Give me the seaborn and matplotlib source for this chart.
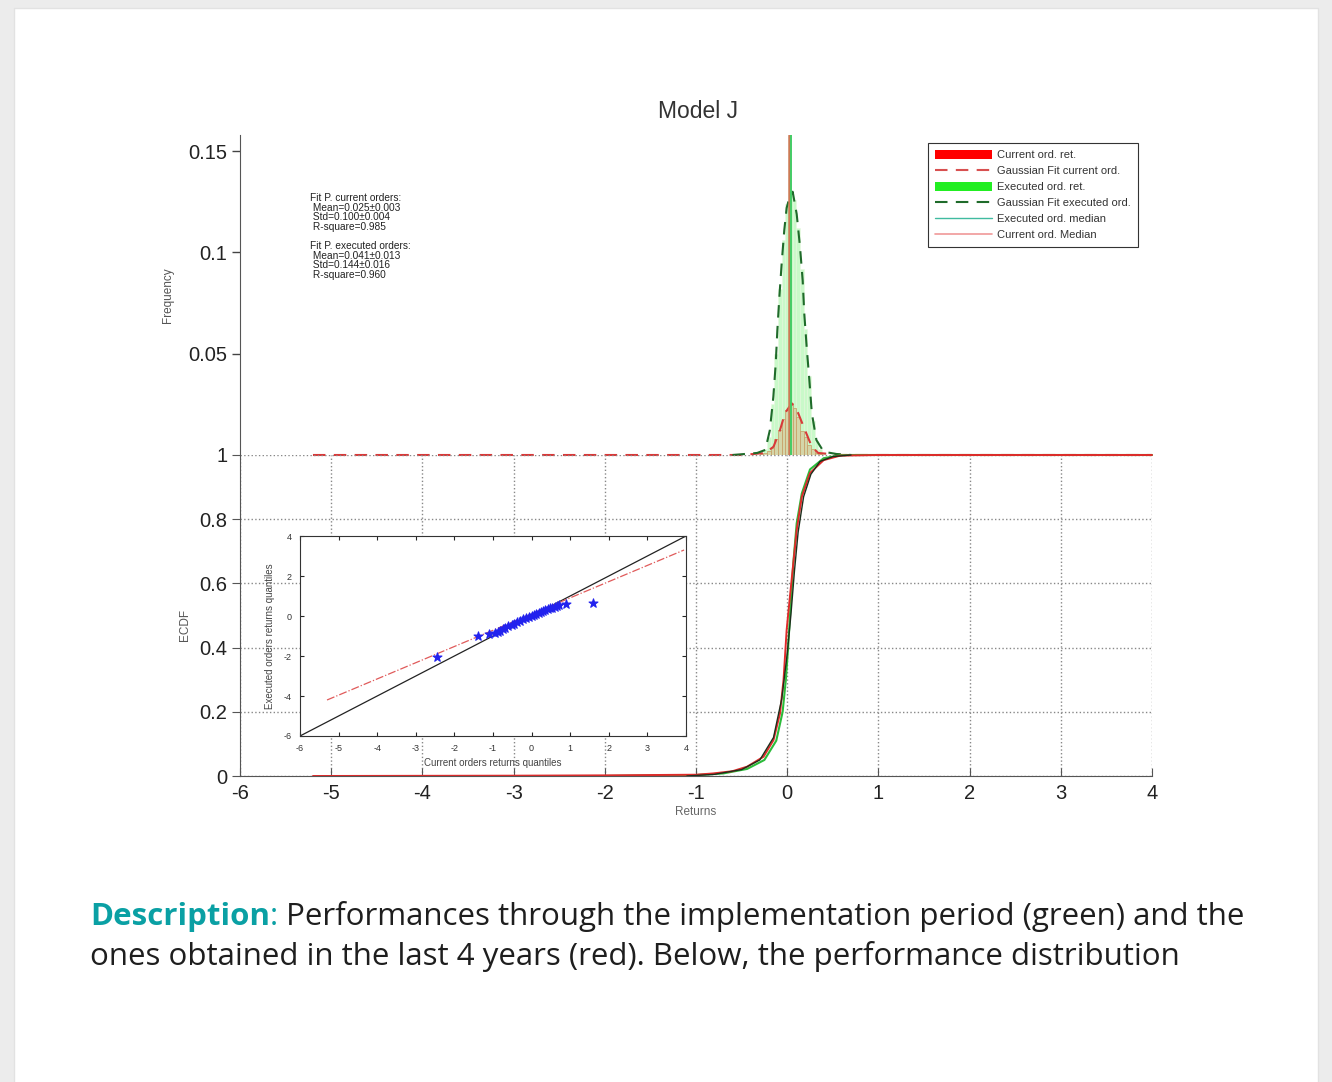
import numpy as np
import matplotlib
matplotlib.use("Agg")
import matplotlib.pyplot as plt
from matplotlib.patches import Rectangle, Patch
from matplotlib.lines import Line2D
import seaborn as sns

# --- data ---
# top panel: histogram of returns (frequency per bin)
bin_edges = [-0.30, -0.26, -0.22, -0.18, -0.14, -0.10, -0.06, -0.02, 0.02, 0.06,
             0.10, 0.14, 0.18, 0.22, 0.26, 0.30, 0.34, 0.38, 0.42]
bin_centers = [-0.28, -0.24, -0.20, -0.16, -0.12, -0.08, -0.04, 0.00, 0.04,
               0.08, 0.12, 0.16, 0.20, 0.24, 0.28, 0.32, 0.36, 0.40]
executed_freq = [0.001, 0.003, 0.009, 0.025, 0.050, 0.082, 0.106, 0.124, 0.129,
                 0.126, 0.112, 0.092, 0.062, 0.039, 0.017, 0.007, 0.003, 0.001]
current_freq = [0.0005, 0.001, 0.002, 0.0035, 0.008, 0.0125, 0.018, 0.022, 0.0255,
                0.023, 0.019, 0.012, 0.009, 0.005, 0.003, 0.001, 0.0005, 0.0]

# gaussian fit curves
fit_cur_x = [-5.2, -0.5, -0.24, -0.15, -0.079, -0.024, 0.05, 0.12, 0.195, 0.27, 0.34, 0.6, 4.0]
fit_cur_y = [0, 0, 0.001, 0.0041, 0.0123, 0.0207, 0.0255, 0.0207, 0.0123, 0.0041, 0.001, 0, 0]
fit_exe_x = [-0.6, -0.33, -0.24, -0.19, -0.152, -0.126, -0.108, -0.086, -0.06, -0.032,
             -0.006, 0.03, 0.06, 0.104, 0.14, 0.17, 0.187, 0.214, 0.243, 0.27, 0.32,
             0.40, 0.54, 0.7]
fit_exe_y = [0, 0.001, 0.0025, 0.0123, 0.0287, 0.045, 0.0616, 0.078, 0.095, 0.111,
             0.122, 0.128, 0.130, 0.119, 0.103, 0.086, 0.070, 0.053, 0.037, 0.0207,
             0.0074, 0.0016, 0.0005, 0]
median_cur = 0.025
median_exe = 0.037

fit_text = ("Fit P. current orders:\n Mean=0.025\u00b10.003\n Std=0.100\u00b10.004\n"
            " R-square=0.985\n\nFit P. executed orders:\n Mean=0.041\u00b10.013\n"
            " Std=0.144\u00b10.016\n R-square=0.960")

# bottom panel: ECDF curves
ecdf_cur_x = [-5.2, -3.0, -2.0, -1.0, -0.81, -0.6, -0.44, -0.26, -0.15, -0.079, -0.04,
              -0.006, 0.03, 0.067, 0.104, 0.16, 0.25, 0.40, 0.58, 1.0, 4.0]
ecdf_cur_y = [0, 0.001, 0.002, 0.004, 0.008, 0.015, 0.029, 0.06, 0.112, 0.195, 0.30,
              0.455, 0.559, 0.663, 0.766, 0.87, 0.944, 0.984, 0.998, 1.0, 1.0]
ecdf_exe_x = [-2.0, -1.0, -0.7, -0.44, -0.25, -0.12, -0.05, -0.015, 0.01, 0.035, 0.067,
              0.104, 0.16, 0.25, 0.40, 0.6, 4.0]
ecdf_exe_y = [0, 0.003, 0.008, 0.022, 0.05, 0.11, 0.2, 0.3, 0.4, 0.52, 0.663, 0.787,
              0.88, 0.955, 0.99, 1.0, 1.0]
ecdf_fit_x = [-1.1, -0.8, -0.5, -0.3, -0.15, -0.06, 0.0, 0.04, 0.08, 0.12, 0.18, 0.26,
              0.36, 0.5, 0.7]
ecdf_fit_y = [0, 0.005, 0.02, 0.05, 0.12, 0.24, 0.38, 0.5, 0.64, 0.76, 0.87, 0.94,
              0.98, 0.995, 1.0]

# inset: QQ plot
qq_x = [-2.45, -1.38, -1.10, -0.95, -0.88, -0.82, -0.75, -0.68, -0.60, -0.52, -0.45,
        -0.38, -0.30, -0.22, -0.15, -0.08, 0.0, 0.06, 0.12, 0.18, 0.24, 0.30, 0.36,
        0.42, 0.48, 0.54, 0.60, 0.66, 0.72, 0.88, 1.58]
qq_y = [-2.05, -1.00, -0.92, -0.85, -0.80, -0.74, -0.67, -0.60, -0.52, -0.45, -0.38,
        -0.30, -0.23, -0.16, -0.10, -0.04, 0.02, 0.07, 0.12, 0.17, 0.22, 0.26, 0.30,
        0.34, 0.38, 0.42, 0.46, 0.50, 0.54, 0.60, 0.67]
ref_x = [-6, 4]
ref_y = [-6, 4]
qqfit_x = [-5.3, 3.95]
qqfit_y = [-4.2, 3.3]

returns_ticks = [-6, -5, -4, -3, -2, -1, 0, 1, 2, 3, 4]
qq_yticks = [-6, -4, -2, 0, 2, 4]
ecdf_ticks = [0, 0.2, 0.4, 0.6, 0.8, 1.0]
ecdf_labels = ["0", "0.2", "0.4", "0.6", "0.8", "1"]
freq_ticks = [0.05, 0.1, 0.15]
freq_labels = ["0.05", "0.1", "0.15"]

desc_head = "Description"
desc_line1 = " Performances through the implementation period (green) and the"
desc_line2 = "ones obtained in the last 4 years (red). Below, the performance distribution"

# --- figure ---
sns.set_style("white")
plt.rcParams["font.family"] = ["Liberation Sans", "DejaVu Sans"]
plt.rcParams["axes.unicode_minus"] = False

W, H = 1332, 1082
fig = plt.figure(figsize=(W / 100, H / 100), dpi=100)
fig.patch.set_facecolor("#ececec")

bg = fig.add_axes([0, 0, 1, 1], zorder=-5)
bg.set_xlim(0, W)
bg.set_ylim(H, 0)
bg.axis("off")
bg.add_patch(Rectangle((14, 8), 1318 - 14, H, facecolor="white", edgecolor="#e2e2e2", lw=1))

def fx(px):
    return px / W

def fy(py):
    return 1 - py / H

def box(left, top, right, bottom):
    # pixel box -> figure fraction rect
    return [fx(left), fy(bottom), fx(right) - fx(left), fy(top) - fy(bottom)]

# top: frequency panel
ax_top = fig.add_axes(box(240, 135, 1152, 455))
ax_top.patch.set_alpha(0)
sns.histplot(x=bin_centers, weights=executed_freq, bins=bin_edges, ax=ax_top,
             color="#66ee66", alpha=0.35, edgecolor="#e8f8e0", linewidth=0.4)
sns.histplot(x=bin_centers, weights=current_freq, bins=bin_edges, ax=ax_top,
             color="#ff5a3a", alpha=0.22, edgecolor="#c8a870", linewidth=0.6)
sns.lineplot(x=fit_cur_x, y=fit_cur_y, ax=ax_top, color="#d83a3a", lw=1.5,
             dashes=(6, 4), sort=False, estimator=None, clip_on=False)
sns.lineplot(x=fit_exe_x, y=fit_exe_y, ax=ax_top, color="#1f6b2a", lw=1.5,
             dashes=(6, 4), sort=False, estimator=None, clip_on=False)
ax_top.axvline(median_cur, color="#cc7a55", lw=1.8)
ax_top.axvline(median_exe, color="#44cc66", lw=1.4)
ax_top.set_xlim(-6, 4)
ax_top.set_ylim(0, 0.158)
ax_top.set_xticks([])
ax_top.set_yticks(freq_ticks)
ax_top.set_yticklabels(freq_labels)
ax_top.tick_params(axis="y", direction="out", length=6, width=1, colors="#444",
                   labelsize=14.5, labelcolor="#222", pad=3, left=True)
for s in ["top", "right", "bottom"]:
    ax_top.spines[s].set_visible(False)
ax_top.spines["left"].set_color("#555")
ax_top.set_xlabel("")
ax_top.set_ylabel("")
fig.text(fx(168), fy(295), "Frequency", rotation=90, ha="center", va="center",
         fontsize=8.5, color="#555")
fig.text(fx(310), fy(193), fit_text, ha="left", va="top", fontsize=7.3,
         linespacing=0.95, color="#222")

handles = [
    Patch(facecolor="#ff0000", edgecolor="none"),
    Line2D([], [], color="#d85050", lw=1.5, dashes=(6, 4)),
    Patch(facecolor="#22ee22", edgecolor="none"),
    Line2D([], [], color="#1f6b2a", lw=1.5, dashes=(6, 4)),
    Line2D([], [], color="#40bba0", lw=1),
    Line2D([], [], color="#f09898", lw=1.2),
]
labels = ["Current ord. ret.", "Gaussian Fit current ord.", "Executed ord. ret.",
          "Gaussian Fit executed ord.", "Executed ord. median", "Current ord. Median"]
leg = ax_top.legend(handles, labels, loc="upper left",
                    bbox_to_anchor=(fx(928), fy(143)), bbox_transform=fig.transFigure,
                    fontsize=8.0, handlelength=5.2, handleheight=0.9, handletextpad=0.45,
                    labelspacing=0.5, borderpad=0.6, borderaxespad=0, fancybox=False,
                    framealpha=1, edgecolor="#333")
leg.get_frame().set_linewidth(0.8)
for t in leg.get_texts():
    t.set_color("#333")

fig.text(fx(698), fy(112), "Model J", ha="center", va="center", fontsize=16.5, color="#333")

# bottom: ECDF panel
ax_bot = fig.add_axes(box(240, 455, 1152, 776))
ax_bot.patch.set_alpha(0)
sns.lineplot(x=ecdf_exe_x, y=ecdf_exe_y, ax=ax_bot, color="#2bbb3a", lw=1.5,
             sort=False, estimator=None, clip_on=False)
sns.lineplot(x=ecdf_cur_x, y=ecdf_cur_y, ax=ax_bot, color="#e02a2a", lw=1.4,
             sort=False, estimator=None, clip_on=False)
sns.lineplot(x=ecdf_fit_x, y=ecdf_fit_y, ax=ax_bot, color="#1c2e1c", lw=1.0,
             sort=False, estimator=None, clip_on=False)
ax_bot.set_xlim(-6, 4)
ax_bot.set_ylim(0, 1)
ax_bot.set_xticks(returns_ticks)
ax_bot.set_xticklabels([str(t) for t in returns_ticks])
ax_bot.set_yticks(ecdf_ticks)
ax_bot.set_yticklabels(ecdf_labels)
ax_bot.grid(True, ls=":", color="#888", lw=1.0)
ax_bot.tick_params(axis="x", direction="in", length=6, colors="#555", labelsize=14.5,
                   labelcolor="#222", pad=6, bottom=True)
ax_bot.tick_params(axis="y", direction="out", length=6, colors="#555", labelsize=14.5,
                   labelcolor="#222", pad=3, left=True)
for s in ["top", "right"]:
    ax_bot.spines[s].set_visible(False)
for s in ["left", "bottom"]:
    ax_bot.spines[s].set_color("#555")
ax_bot.set_xlabel("Returns", fontsize=8.5, color="#666", labelpad=2)
ax_bot.set_ylabel("")
fig.text(fx(185), fy(625), "ECDF", rotation=90, ha="center", va="center",
         fontsize=8.5, color="#555")

# inset: QQ plot
ax_in = fig.add_axes(box(300, 536, 686, 736))
ax_in.set_facecolor("white")
sns.lineplot(x=ref_x, y=ref_y, ax=ax_in, color="#222", lw=0.9, estimator=None)
sns.lineplot(x=qqfit_x, y=qqfit_y, ax=ax_in, color="#e05a5a", lw=0.9,
             linestyle="-.", estimator=None)
sns.scatterplot(x=qq_x, y=qq_y, ax=ax_in, color="#2222ee", marker="*", s=45,
                edgecolor="#2222ee", linewidth=0.8, zorder=3)
ax_in.set_xlim(-6, 4)
ax_in.set_ylim(-6, 4)
ax_in.set_xticks(returns_ticks)
ax_in.set_yticks(qq_yticks)
ax_in.tick_params(direction="in", length=3, labelsize=6.5, labelcolor="#333",
                  top=True, right=True, bottom=True, left=True, pad=6)
for s in ax_in.spines.values():
    s.set_color("#333")
    s.set_linewidth(0.8)
ax_in.set_xlabel("Current orders returns quantiles", fontsize=7, color="#444", labelpad=3)
ax_in.set_ylabel("Executed orders returns quantiles", fontsize=7, color="#444", labelpad=6)

# description under the chart
teal = "#0aa0a4"
dfont = ["Open Sans", "DejaVu Sans"]
t1 = bg.text(90, 917, desc_head, ha="left", va="center", fontsize=22.5,
             fontweight="bold", color=teal, family=dfont)
t2 = bg.annotate(":", xy=(1, 0), xycoords=t1, ha="left", va="bottom", fontsize=22.5,
                 color=teal, family=dfont)
bg.annotate(desc_line1, xy=(1, 0), xycoords=t2, ha="left", va="bottom", fontsize=22.5,
            color="#1e1e1e", family=dfont)
bg.text(90, 957, desc_line2, ha="left", va="center", fontsize=22.5,
        color="#1e1e1e", family=dfont)

fig.savefig("out.png", dpi=100, facecolor=fig.get_facecolor())
